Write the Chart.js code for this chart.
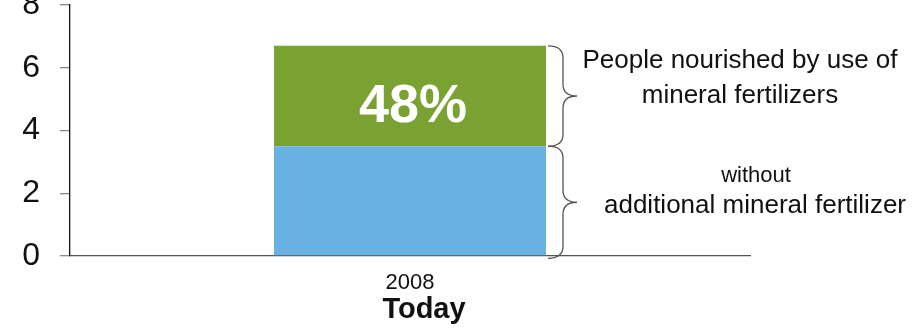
<!DOCTYPE html>
<html>
<head>
<meta charset="utf-8">
<script src="https://cdn.jsdelivr.net/npm/chart.js"></script>
<style>
  html, body { margin: 0; padding: 0; background: #fff; }
  #wrap { width: 912px; height: 329px; }
</style>
</head>
<body>
<div id="wrap"><canvas id="c" width="912" height="329"></canvas></div>
<script>
// values (billions of people)
const categories = ['2008'];
const withoutFertilizer = [3.5];
const withFertilizer = [3.2];
const shareLabels = ['48%'];
const yMin = 0, yMax = 8, yStep = 2;
const axisTitle = 'Today';
const upperText = ['People nourished by use of', 'mineral fertilizers'];
const lowerText = ['without', 'additional mineral fertilizer'];

const FONT = '"Liberation Sans", Arial, sans-serif';

// curly brace on the right of the bar
function drawBrace(ctx, x0, y1, y2) {
  const x1 = x0 + 15, x2 = x0 + 29, r = 12;
  const ym = (y1 + y2) / 2;
  ctx.beginPath();
  ctx.moveTo(x0, y1);
  ctx.quadraticCurveTo(x1, y1, x1, y1 + r);
  ctx.lineTo(x1, ym - r);
  ctx.quadraticCurveTo(x1, ym, x2, ym);
  ctx.quadraticCurveTo(x1, ym, x1, ym + r);
  ctx.lineTo(x1, y2 - r);
  ctx.quadraticCurveTo(x1, y2, x0, y2);
  ctx.stroke();
}

const annotations = {
  id: 'annotations',
  afterDatasetsDraw(chart) {
    const ctx = chart.ctx;
    const low = chart.getDatasetMeta(0).data[0];
    const high = chart.getDatasetMeta(1).data[0];
    const right = low.x + low.width / 2;
    ctx.save();

    // share label inside green segment
    ctx.fillStyle = '#fff';
    ctx.font = 'bold 54px ' + FONT;
    ctx.textAlign = 'center';
    ctx.textBaseline = 'alphabetic';
    ctx.fillText(shareLabels[0], high.x + 3, (high.y + high.base) / 2 + 26);

    // braces
    ctx.strokeStyle = '#555';
    ctx.lineWidth = 1.3;
    drawBrace(ctx, right + 2, high.y, high.base);
    drawBrace(ctx, right + 2, low.y, low.base + 3);

    // captions
    ctx.fillStyle = '#111';
    ctx.font = '26px ' + FONT;
    const upMid = (high.y + high.base) / 2;
    ctx.fillText(upperText[0], 740, upMid - 28);
    ctx.fillText(upperText[1], 740, upMid + 7);
    const lowMid = (low.y + low.base) / 2;
    ctx.font = '22px ' + FONT;
    ctx.fillText(lowerText[0], 756, lowMid - 19);
    ctx.font = '26px ' + FONT;
    ctx.fillText(lowerText[1], 755, lowMid + 12);

    // axis title under the category label
    ctx.font = 'bold 29px ' + FONT;
    ctx.fillText(axisTitle, low.x + 14, 318);
    ctx.restore();
  }
};

new Chart(document.getElementById('c'), {
  type: 'bar',
  data: {
    labels: categories,
    datasets: [
      { label: 'without additional mineral fertilizer', data: withoutFertilizer, backgroundColor: '#69b1e3' },
      { label: 'People nourished by use of mineral fertilizers', data: withFertilizer, backgroundColor: '#7aa232' }
    ]
  },
  options: {
    responsive: false,
    animation: false,
    layout: { padding: { top: 5, right: 162, left: 0, bottom: 0 } },
    plugins: { legend: { display: false }, tooltip: { enabled: false } },
    datasets: { bar: { categoryPercentage: 1, barPercentage: 0.4 } },
    scales: {
      x: {
        stacked: true,
        grid: { display: false, drawTicks: false },
        border: { color: '#555', width: 1.3 },
        ticks: { color: '#111', font: { family: FONT, size: 22 }, padding: 14 },
        afterFit(s) { s.height = 73; s.paddingLeft = 0; s.paddingRight = 0; }
      },
      y: {
        stacked: true,
        min: yMin, max: yMax,
        ticks: { stepSize: yStep, color: '#111', font: { family: FONT, size: 32 }, padding: 20 },
        grid: { drawOnChartArea: false, drawTicks: true, tickLength: 10, color: '#888', lineWidth: 1.3 },
        border: { color: '#111', width: 1.3 },
        afterFit(s) { s.width = 70; s.paddingTop = 0; s.paddingBottom = 0; }
      }
    }
  },
  plugins: [annotations]
});
</script>
</body>
</html>
